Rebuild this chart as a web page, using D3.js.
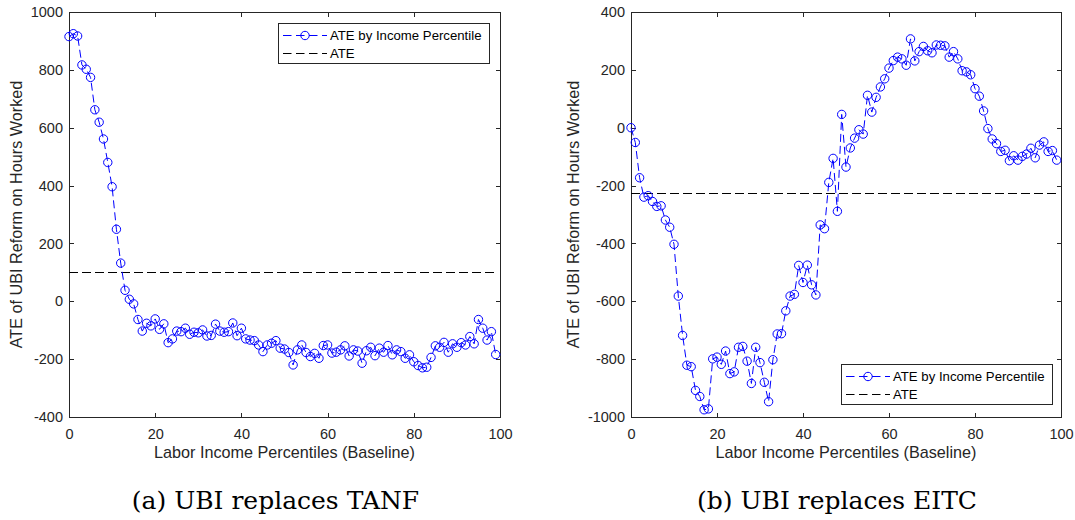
<!DOCTYPE html>
<html>
<head>
<meta charset="utf-8">
<script src="https://cdn.jsdelivr.net/npm/d3@7"></script>
<style>
  body { margin: 0; background: #fff; }
  svg { display: block; }
</style>
</head>
<body>
<svg id="chart" width="1075" height="520"></svg>
<script>
// Baseline labor-income percentiles (x positions of every marker)
const percentiles = [
  0, 1, 2, 3, 4, 5, 6, 7, 8, 9,
  10, 11, 12, 13, 14, 15, 16, 17, 18, 19,
  20, 21, 22, 23, 24, 25, 26, 27, 28, 29,
  30, 31, 32, 33, 34, 35, 36, 37, 38, 39,
  40, 41, 42, 43, 44, 45, 46, 47, 48, 49,
  50, 51, 52, 53, 54, 55, 56, 57, 58, 59,
  60, 61, 62, 63, 64, 65, 66, 67, 68, 69,
  70, 71, 72, 73, 74, 75, 76, 77, 78, 79,
  80, 81, 82, 83, 84, 85, 86, 87, 88, 89,
  90, 91, 92, 93, 94, 95, 96, 97, 98, 99
];

// (a) UBI replaces TANF: effect on hours worked, by percentile
const tanfByPercentile = [
  915, 925, 917, 817, 802, 774, 662, 619, 561, 480,
  396, 249, 132, 38, 7, -9, -63, -103, -76, -85,
  -61, -97, -78, -143, -130, -103, -105, -93, -114, -107,
  -109, -99, -120, -118, -79, -103, -107, -105, -75, -119,
  -93, -130, -134, -136, -151, -174, -151, -145, -136, -162,
  -165, -177, -220, -168, -151, -177, -191, -180, -197, -153,
  -151, -179, -176, -168, -154, -189, -168, -172, -214, -171,
  -159, -188, -162, -176, -153, -185, -168, -174, -197, -185,
  -209, -222, -230, -228, -194, -154, -159, -142, -176, -147,
  -159, -143, -151, -122, -147, -63, -93, -134, -105, -184
];
const tanfAverage = 98;

// (b) UBI replaces EITC: effect on hours worked, by percentile
const eitcByPercentile = [
  0, -51, -173, -240, -235, -255, -272, -270, -319, -344,
  -403, -582, -718, -821, -826, -908, -929, -975, -972, -799,
  -793, -818, -772, -850, -844, -759, -756, -807, -884, -759,
  -812, -880, -947, -802, -713, -712, -633, -582, -576, -476,
  -535, -475, -543, -578, -336, -349, -189, -106, -289, 46,
  -136, -70, -36, -7, -22, 112, 54, 105, 141, 169,
  206, 232, 244, 238, 216, 307, 231, 263, 281, 266,
  259, 286, 285, 283, 244, 263, 238, 197, 193, 183,
  135, 109, 58, -3, -39, -55, -82, -78, -114, -97,
  -112, -99, -91, -71, -104, -60, -49, -82, -79, -112
];
const eitcAverage = -226;

// Tick labels
const xTicks = [0, 20, 40, 60, 80, 100];
const tanfYTicks = [-400, -200, 0, 200, 400, 600, 800, 1000];
const eitcYTicks = [-1000, -800, -600, -400, -200, 0, 200, 400];

// Text
const xTitle = "Labor Income Percentiles (Baseline)";
const yTitle = "ATE of UBI Reform on Hours Worked";
const seriesName = "ATE by Income Percentile";
const averageName = "ATE";
const captions = ["(a) UBI replaces TANF", "(b) UBI replaces EITC"];

const AXIS_COLOR = "#262626";
const SANS = "'Liberation Sans', Arial, Helvetica, sans-serif";
const TOP = 12, BOTTOM = 417;
const plain = d => String(d);   // ASCII hyphen for negatives

const panels = [
  { values: tanfByPercentile, avg: tanfAverage, yTicks: tanfYTicks,
    left: 69, right: 500, yTitleX: 22, legendAt: [278, 23], caption: captions[0] },
  { values: eitcByPercentile, avg: eitcAverage, yTicks: eitcYTicks,
    left: 631, right: 1061, yTitleX: 579, legendAt: [841, 364], caption: captions[1] }
];

const svg = d3.select("#chart");

panels.forEach(p => {
  const x = d3.scaleLinear().domain([0, 100]).range([p.left, p.right]);
  const y = d3.scaleLinear().domain(d3.extent(p.yTicks)).range([BOTTOM, TOP]);
  const g = svg.append("g");

  // inward ticks on all four sides, labels on left and bottom
  const tick = 4.5;
  const styleAxis = sel => {
    sel.select(".domain").remove();
    sel.selectAll(".tick line").attr("stroke", AXIS_COLOR).attr("shape-rendering", "crispEdges");
    sel.selectAll("text").attr("fill", AXIS_COLOR)
      .style("font-family", SANS).style("font-size", "14.5px");
  };
  g.append("g").attr("transform", `translate(0,${BOTTOM})`)
    .call(d3.axisBottom(x).tickValues(xTicks).tickSize(-tick).tickPadding(11.7).tickFormat(plain))
    .call(styleAxis);
  g.append("g").attr("transform", `translate(0,${TOP})`)
    .call(d3.axisTop(x).tickValues(xTicks).tickSize(-tick).tickFormat(""))
    .call(styleAxis);
  g.append("g").attr("transform", `translate(${p.left},0)`)
    .call(d3.axisLeft(y).tickValues(p.yTicks).tickSize(-tick).tickPadding(6).tickFormat(plain))
    .call(styleAxis);
  g.append("g").attr("transform", `translate(${p.right},0)`)
    .call(d3.axisRight(y).tickValues(p.yTicks).tickSize(-tick).tickFormat(""))
    .call(styleAxis);

  // plot box
  g.append("rect")
    .attr("x", p.left + 0.5).attr("y", TOP + 0.5)
    .attr("width", p.right - p.left).attr("height", BOTTOM - TOP)
    .attr("fill", "none").attr("stroke", AXIS_COLOR).attr("stroke-width", 1)
    .attr("shape-rendering", "crispEdges");

  // average effect
  g.append("line")
    .attr("x1", x(percentiles[0])).attr("x2", x(percentiles[percentiles.length - 1]))
    .attr("y1", y(p.avg)).attr("y2", y(p.avg))
    .attr("stroke", "#000").attr("stroke-width", 1).attr("stroke-dasharray", "8.5,4.5")
    .attr("shape-rendering", "crispEdges");

  // effect by percentile
  const pts = percentiles.map((q, i) => ({ q, v: p.values[i] }));
  g.append("path")
    .datum(pts)
    .attr("d", d3.line().x(d => x(d.q)).y(d => y(d.v)))
    .attr("fill", "none").attr("stroke", "#0000ff").attr("stroke-width", 1)
    .attr("stroke-dasharray", "8,4");
  g.append("g").selectAll("circle").data(pts).join("circle")
    .attr("cx", d => x(d.q)).attr("cy", d => y(d.v)).attr("r", 4.2)
    .attr("fill", "none").attr("stroke", "#0000ff").attr("stroke-width", 1);

  // axis titles
  g.append("text")
    .attr("x", (p.left + p.right) / 2).attr("y", 458)
    .attr("text-anchor", "middle").attr("fill", AXIS_COLOR)
    .style("font-family", SANS).style("font-size", "16.2px")
    .text(xTitle);
  g.append("text")
    .attr("transform", `translate(${p.yTitleX},${(TOP + BOTTOM) / 2}) rotate(-90)`)
    .attr("text-anchor", "middle").attr("fill", AXIS_COLOR)
    .style("font-family", SANS).style("font-size", "16.2px")
    .text(yTitle);

  // legend
  const [lx, ly] = p.legendAt;
  const lg = g.append("g").attr("transform", `translate(${lx},${ly})`);
  lg.append("rect").attr("x", 0.5).attr("y", 0.5).attr("width", 211).attr("height", 40)
    .attr("fill", "#fff").attr("stroke", AXIS_COLOR).attr("stroke-width", 1)
    .attr("shape-rendering", "crispEdges");
  const rows = [
    { label: seriesName, color: "#0000ff", marker: true, cy: 12.5 },
    { label: averageName, color: "#000", marker: false, cy: 30.5 }
  ];
  rows.forEach(r => {
    lg.append("line").attr("x1", 5).attr("x2", 49).attr("y1", r.cy).attr("y2", r.cy)
      .attr("stroke", r.color).attr("stroke-width", 1).attr("stroke-dasharray", "8.5,4.5");
    if (r.marker) {
      lg.append("circle").attr("cx", 27).attr("cy", r.cy).attr("r", 4.2)
        .attr("fill", "none").attr("stroke", r.color).attr("stroke-width", 1);
    }
    lg.append("text").attr("x", 52).attr("y", r.cy).attr("dy", "0.36em")
      .attr("fill", "#000").style("font-family", SANS).style("font-size", "13.2px")
      .text(r.label);
  });

  // caption
  svg.append("text")
    .attr("x", (p.left + p.right) / 2 - 9).attr("y", 509)
    .attr("text-anchor", "middle").attr("fill", "#000")
    .style("font-family", "'DejaVu Serif', 'Liberation Serif', serif").style("font-size", "25px")
    .text(p.caption);
});
</script>
</body>
</html>
